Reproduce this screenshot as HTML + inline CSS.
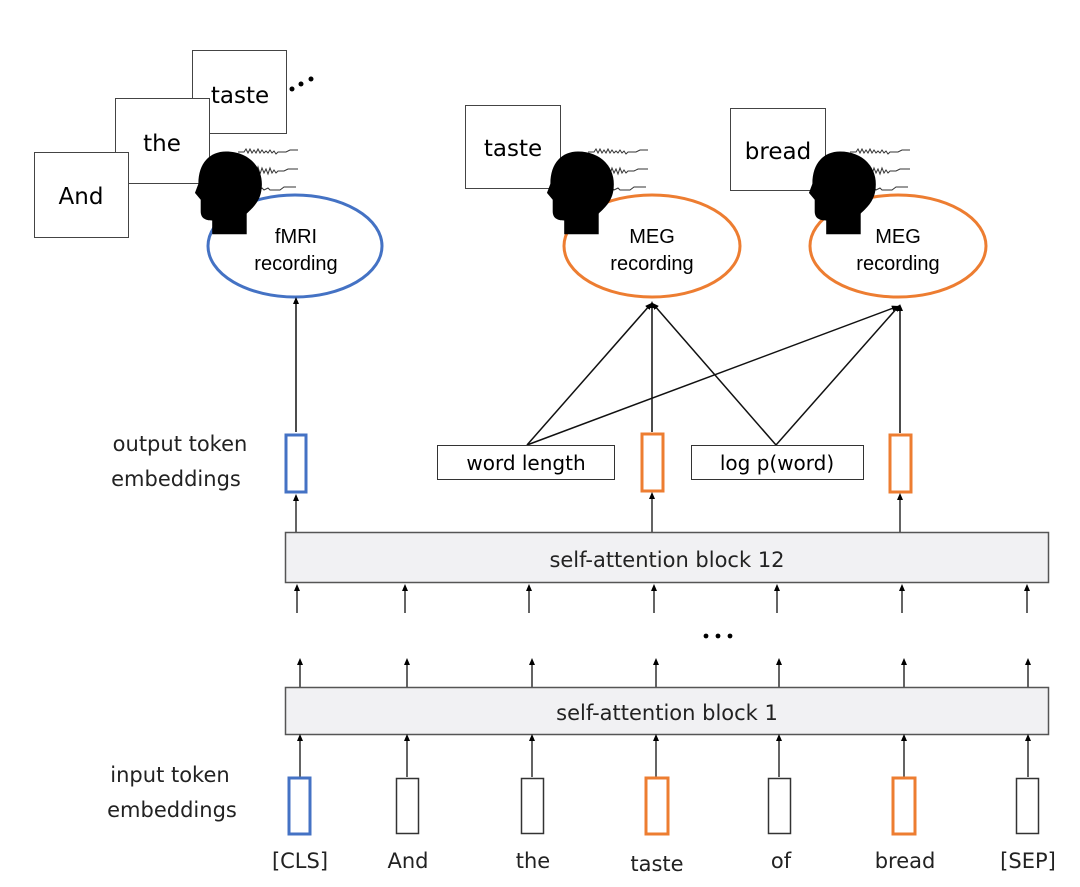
<!DOCTYPE html>
<html><head><meta charset="utf-8"><style>
html,body{margin:0;padding:0;background:#fff;}
svg{display:block;font-family:"Liberation Sans",sans-serif;}
</style></head><body>
<svg width="1080" height="887" viewBox="0 0 1080 887" xmlns="http://www.w3.org/2000/svg">
<defs>
<marker id="ah" markerWidth="8" markerHeight="8" refX="4" refY="4" orient="auto" markerUnits="userSpaceOnUse"><path d="M0,1 L7,4 L0,7 z" fill="#000"/></marker>
<g id="head">
<path d="M0,-30 C20,-30 33,-16 31,2 C30,14 22,20 18,24 L18,42 L-12,42 L-12,30 C-18,30 -22,28 -22,22 L-22,12 L-27,6 L-24,-2 C-24,-20 -14,-30 0,-30 Z" fill="#000"/>
</g>
<g id="waves" fill="none" stroke="#333" stroke-width="1">
<path d="M0,0 l6,0 l2,-3 l2,4 l2,-4 l2,4 l2,-3 l2,3 l2,-4 l2,4 l2,-3 l2,3 l2,-2 l2,2 l2,-3 l2,3 l2,-2 l2,3 l2,-2 l8,0 l4,-2 l8,0"/>
<path d="M0,20 l6,0 l2,-6 l2,9 l2,-8 l2,8 l2,-9 l2,8 l2,-7 l2,7 l2,-6 l2,5 l2,-4 l2,5 l2,-6 l2,5 l2,-3 l2,3 l2,-2 l6,0 l4,-2 l10,0"/>
<path d="M0,38 l6,0 l2,-4 l2,5 l2,-4 l2,4 l2,-5 l2,4 l2,-3 l2,3 l2,-2 l2,2 l4,-2 l2,2 l10,0 l4,-3 l12,0"/>
</g>
</defs>

<!-- fMRI stack -->
<rect x="192.5" y="50.5" width="94" height="83" fill="#fff" stroke="#444"/>
<text x="240" y="103" font-family="DejaVu Sans, sans-serif" font-size="23" text-anchor="middle">taste</text>
<rect x="115.5" y="98.5" width="94" height="85" fill="#fff" stroke="#444"/>
<text x="162" y="151" font-family="DejaVu Sans, sans-serif" font-size="23" text-anchor="middle">the</text>
<rect x="34.5" y="152.5" width="94" height="85" fill="#fff" stroke="#444"/>
<text x="81" y="204" font-family="DejaVu Sans, sans-serif" font-size="23" text-anchor="middle">And</text>
<circle cx="292" cy="89" r="2.5"/><circle cx="301" cy="84" r="2.5"/><circle cx="311" cy="79" r="2.5"/>
<use href="#waves" x="238" y="152"/>
<ellipse cx="295" cy="246" rx="87" ry="51" fill="#fff" stroke="#4472c4" stroke-width="3"/>
<use href="#head" transform="translate(226,186) scale(1.15)"/>
<text x="296" y="243" font-size="20" text-anchor="middle">fMRI</text>
<text x="296" y="270" font-size="20" text-anchor="middle">recording</text>

<!-- MEG 1 -->
<rect x="465.5" y="105.5" width="95" height="83" fill="#fff" stroke="#444"/>
<text x="513" y="156" font-family="DejaVu Sans, sans-serif" font-size="23" text-anchor="middle">taste</text>
<use href="#waves" x="588" y="152"/>
<ellipse cx="652" cy="246" rx="88" ry="51" fill="#fff" stroke="#ed7d31" stroke-width="3"/>
<use href="#head" transform="translate(578,186) scale(1.15)"/>
<text x="652" y="243" font-size="20" text-anchor="middle">MEG</text>
<text x="652" y="270" font-size="20" text-anchor="middle">recording</text>

<!-- MEG 2 -->
<rect x="730.5" y="108.5" width="95" height="82" fill="#fff" stroke="#444"/>
<text x="778" y="159" font-family="DejaVu Sans, sans-serif" font-size="23" text-anchor="middle">bread</text>
<use href="#waves" x="850" y="152"/>
<ellipse cx="898" cy="246" rx="88" ry="51" fill="#fff" stroke="#ed7d31" stroke-width="3"/>
<use href="#head" transform="translate(840,186) scale(1.15)"/>
<text x="898" y="243" font-size="20" text-anchor="middle">MEG</text>
<text x="898" y="270" font-size="20" text-anchor="middle">recording</text>

<!-- connectors -->
<g stroke="#111" stroke-width="1.5" fill="none">
<line x1="296" y1="432" x2="296" y2="300" marker-end="url(#ah)"/>
<line x1="652" y1="432" x2="652" y2="304" marker-end="url(#ah)"/>
<line x1="527" y1="445" x2="650" y2="305" marker-end="url(#ah)"/>
<line x1="776" y1="445" x2="654" y2="305" marker-end="url(#ah)"/>
<line x1="527" y1="445" x2="896" y2="307" marker-end="url(#ah)"/>
<line x1="776" y1="445" x2="898" y2="307" marker-end="url(#ah)"/>
<line x1="900" y1="433" x2="900" y2="307" marker-end="url(#ah)"/>
</g>

<!-- output embeddings -->
<text x="180" y="451" font-family="DejaVu Sans, sans-serif" font-size="21" text-anchor="middle" fill="#222">output token</text>
<text x="176" y="486" font-family="DejaVu Sans, sans-serif" font-size="21" text-anchor="middle" fill="#222">embeddings</text>
<rect x="286" y="435" width="20" height="57" fill="#fff" stroke="#4472c4" stroke-width="3"/>
<rect x="642" y="434" width="21" height="57" fill="#fff" stroke="#ed7d31" stroke-width="3"/>
<rect x="890" y="435" width="21" height="57" fill="#fff" stroke="#ed7d31" stroke-width="3"/>
<rect x="437.5" y="445.5" width="177" height="34" fill="#fff" stroke="#333"/>
<text x="526" y="470" font-family="DejaVu Sans, sans-serif" font-size="20" text-anchor="middle">word length</text>
<rect x="691.5" y="445.5" width="172" height="34" fill="#fff" stroke="#333"/>
<text x="777" y="470" font-family="DejaVu Sans, sans-serif" font-size="20" text-anchor="middle">log p(word)</text>

<g stroke="#111" stroke-width="1.3">
<line x1="296" y1="532" x2="296" y2="497" marker-end="url(#ah)"/>
<line x1="652" y1="532" x2="652" y2="495" marker-end="url(#ah)"/>
<line x1="900" y1="532" x2="900" y2="496" marker-end="url(#ah)"/>
</g>

<!-- block 12 -->
<rect x="285.5" y="532.5" width="763" height="50" fill="#f1f1f3" stroke="#555" stroke-width="1.5"/>
<text x="667" y="567" font-family="DejaVu Sans, sans-serif" font-size="21" text-anchor="middle" fill="#222">self-attention block 12</text>
<g stroke="#111" stroke-width="1.3">
<line x1="297" y1="613" x2="297" y2="587" marker-end="url(#ah)"/>
<line x1="405" y1="613" x2="405" y2="587" marker-end="url(#ah)"/>
<line x1="529" y1="613" x2="529" y2="587" marker-end="url(#ah)"/>
<line x1="654" y1="613" x2="654" y2="587" marker-end="url(#ah)"/>
<line x1="777" y1="613" x2="777" y2="587" marker-end="url(#ah)"/>
<line x1="902" y1="613" x2="902" y2="587" marker-end="url(#ah)"/>
<line x1="1027" y1="613" x2="1027" y2="587" marker-end="url(#ah)"/>
<line x1="300" y1="687" x2="300" y2="661" marker-end="url(#ah)"/>
<line x1="407" y1="687" x2="407" y2="661" marker-end="url(#ah)"/>
<line x1="532" y1="687" x2="532" y2="661" marker-end="url(#ah)"/>
<line x1="656" y1="687" x2="656" y2="661" marker-end="url(#ah)"/>
<line x1="779" y1="687" x2="779" y2="661" marker-end="url(#ah)"/>
<line x1="904" y1="687" x2="904" y2="661" marker-end="url(#ah)"/>
<line x1="1028" y1="687" x2="1028" y2="661" marker-end="url(#ah)"/>
</g>
<circle cx="706" cy="636" r="2.4"/><circle cx="718" cy="636" r="2.4"/><circle cx="730" cy="636" r="2.4"/>

<!-- block 1 -->
<rect x="285.5" y="687.5" width="763" height="47" fill="#f1f1f3" stroke="#555" stroke-width="1.5"/>
<text x="667" y="720" font-family="DejaVu Sans, sans-serif" font-size="21" text-anchor="middle" fill="#222">self-attention block 1</text>
<g stroke="#111" stroke-width="1.3">
<line x1="300" y1="777" x2="300" y2="737" marker-end="url(#ah)"/>
<line x1="407" y1="777" x2="407" y2="737" marker-end="url(#ah)"/>
<line x1="532" y1="777" x2="532" y2="737" marker-end="url(#ah)"/>
<line x1="656" y1="777" x2="656" y2="737" marker-end="url(#ah)"/>
<line x1="779" y1="777" x2="779" y2="737" marker-end="url(#ah)"/>
<line x1="904" y1="777" x2="904" y2="737" marker-end="url(#ah)"/>
<line x1="1028" y1="777" x2="1028" y2="737" marker-end="url(#ah)"/>
</g>

<!-- input embeddings -->
<text x="170" y="782" font-family="DejaVu Sans, sans-serif" font-size="21" text-anchor="middle" fill="#222">input token</text>
<text x="172" y="817" font-family="DejaVu Sans, sans-serif" font-size="21" text-anchor="middle" fill="#222">embeddings</text>
<rect x="289" y="778" width="21" height="56" fill="#fff" stroke="#4472c4" stroke-width="3"/>
<rect x="396.5" y="778.5" width="22" height="55" fill="#fff" stroke="#333" stroke-width="1.5"/>
<rect x="521.5" y="778.5" width="22" height="55" fill="#fff" stroke="#333" stroke-width="1.5"/>
<rect x="646" y="778" width="22" height="56" fill="#fff" stroke="#ed7d31" stroke-width="3"/>
<rect x="768.5" y="778.5" width="22" height="55" fill="#fff" stroke="#333" stroke-width="1.5"/>
<rect x="893" y="778" width="22" height="56" fill="#fff" stroke="#ed7d31" stroke-width="3"/>
<rect x="1016.5" y="778.5" width="22" height="55" fill="#fff" stroke="#333" stroke-width="1.5"/>
<g font-family="DejaVu Sans, sans-serif" font-size="21" text-anchor="middle" fill="#222">
<text x="300" y="868">[CLS]</text>
<text x="408" y="868">And</text>
<text x="533" y="868">the</text>
<text x="657" y="871">taste</text>
<text x="781" y="868">of</text>
<text x="905" y="868">bread</text>
<text x="1028" y="868">[SEP]</text>
</g>
</svg>
</body></html>
